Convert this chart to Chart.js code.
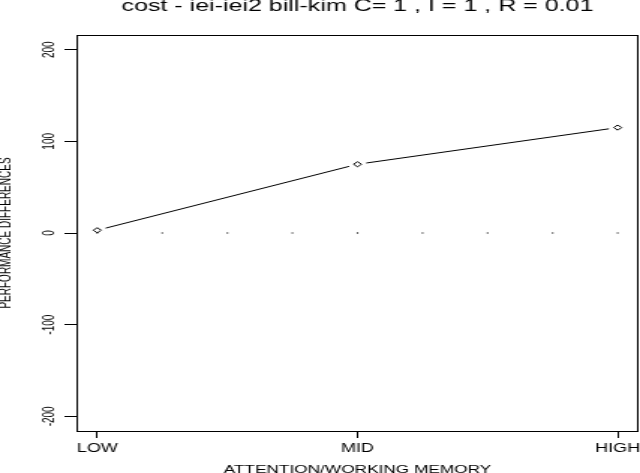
<!DOCTYPE html>
<html>
<head>
<meta charset="utf-8">
<script src="https://cdn.jsdelivr.net/npm/chart.js@4/dist/chart.umd.min.js"></script>
<style>
  html, body { margin: 0; padding: 0; background: #fff; overflow: hidden; }
  /* the reference is rendered with a horizontal stretch of about 1.5 */
  #wrap { position: absolute; left: 0; top: 0; width: 427px; height: 473px;
          transform: scaleX(1.49883); transform-origin: 0 0; }
</style>
</head>
<body>
<div id="wrap"><canvas id="c"></canvas></div>
<script>
// ---- data ----
const categories = ['LOW', 'MID', 'HIGH'];
const categoryPositions = [0, 1, 2];
const performance = [3, 75, 115];
const zeroGuideX = [0, 0.25, 0.5, 0.75, 1, 1.25, 1.5, 1.75, 2];
const zeroGuideY = [0, 0, 0, 0, 0, 0, 0, 0, 0];
const yTicks = [-200, -100, 0, 100, 200];
const titleText = 'cost - iei-iei2 bill-kim C= 1 , I = 1 , R = 0.01';
const xTitle = 'ATTENTION/WORKING MEMORY';
const yTitle = 'PERFORMANCE DIFFERENCES';

const FONT = "'Liberation Sans', Arial, Helvetica, sans-serif";

// line segments with gaps around markers (R type = "b")
const gapLine = {
  id: 'gapLine',
  beforeDatasetsDraw(chart, args, opts) {
    const meta = chart.getDatasetMeta(1);
    const ctx = chart.ctx;
    const gap = opts.gap || 6;
    ctx.save();
    ctx.strokeStyle = '#000';
    ctx.lineWidth = 1;
    for (let i = 0; i < meta.data.length - 1; i++) {
      const a = meta.data[i], b = meta.data[i + 1];
      const dx = b.x - a.x, dy = b.y - a.y;
      const len = Math.hypot(dx, dy);
      if (len <= 2 * gap) continue;
      const ux = dx / len, uy = dy / len;
      ctx.beginPath();
      ctx.moveTo(a.x + ux * gap, a.y + uy * gap);
      ctx.lineTo(b.x - ux * gap, b.y - uy * gap);
      ctx.stroke();
    }
    ctx.restore();
  }
};

// box around the plot region
const frame = {
  id: 'frame',
  afterDraw(chart) {
    const {left, top, right, bottom} = chart.chartArea;
    const ctx = chart.ctx;
    ctx.save();
    ctx.strokeStyle = '#000';
    ctx.lineWidth = 1;
    ctx.strokeRect(Math.round(left) + 0.5, Math.round(top) + 0.5,
                   Math.round(right) - Math.round(left) - 1, Math.round(bottom) - Math.round(top));
    ctx.restore();
  }
};

new Chart(document.getElementById('c'), {
  type: 'scatter',
  data: {
    datasets: [
      {
        data: zeroGuideX.map((x, i) => ({x: x, y: zeroGuideY[i]})),
        showLine: false,
        pointStyle: 'rect',
        pointRadius: 0.8,
        backgroundColor: '#000',
        borderWidth: 0
      },
      {
        data: categoryPositions.map((x, i) => ({x: x, y: performance[i]})),
        showLine: false,
        pointStyle: 'rectRot',
        pointRadius: 2.6,
        backgroundColor: '#fff',
        borderColor: '#000',
        borderWidth: 1
      }
    ]
  },
  options: {
    responsive: true,
    maintainAspectRatio: false,
    animation: false,
    events: [],
    layout: { autoPadding: false, padding: { left: 0, right: 1, top: 0, bottom: 0 } },
    plugins: {
      legend: { display: false },
      tooltip: { enabled: false },
      title: {
        display: true,
        text: titleText,
        fullSize: false,
        color: '#000',
        font: { family: FONT, size: 16.7, weight: 'normal', lineHeight: 1 },
        padding: { top: -1.5, bottom: 19.8 }
      },
      gapLine: { gap: 6 }
    },
    scales: {
      x: {
        type: 'linear',
        min: -0.08,
        max: 2.08,
        afterBuildTicks(scale) { scale.ticks = categoryPositions.map(v => ({value: v})); },
        afterFit(scale) { scale.height = 42; scale.paddingLeft = 0; scale.paddingRight = 0; },
        border: { display: false },
        grid: { display: true, drawOnChartArea: false, drawTicks: true, tickLength: 7, color: '#000', lineWidth: 1 },
        ticks: {
          autoSkip: false, maxRotation: 0, minRotation: 0, padding: 3, color: '#000',
          font: { family: FONT, size: 12 },
          callback: (v) => categories[categoryPositions.indexOf(v)]
        },
        title: {
          display: true, text: xTitle, color: '#000',
          font: { family: FONT, size: 11.5, lineHeight: 1 },
          padding: { top: 0, bottom: -3 }
        }
      },
      y: {
        type: 'linear',
        min: -216,
        max: 216,
        afterBuildTicks(scale) { scale.ticks = yTicks.map(v => ({value: v})); },
        afterFit(scale) { scale.width = 51; scale.paddingTop = 0; scale.paddingBottom = 0; },
        border: { display: false },
        grid: { display: true, drawOnChartArea: false, drawTicks: true, tickLength: 8, color: '#000', lineWidth: 1 },
        ticks: {
          minRotation: 90, maxRotation: 90, crossAlign: 'center', padding: 0, color: '#000',
          font: { family: FONT, size: 10 }
        },
        title: {
          display: true, text: yTitle, color: '#000',
          font: { family: FONT, size: 10, lineHeight: 1 },
          padding: { top: -1, bottom: 0 }
        }
      }
    }
  },
  plugins: [gapLine, frame]
});
</script>
</body>
</html>
